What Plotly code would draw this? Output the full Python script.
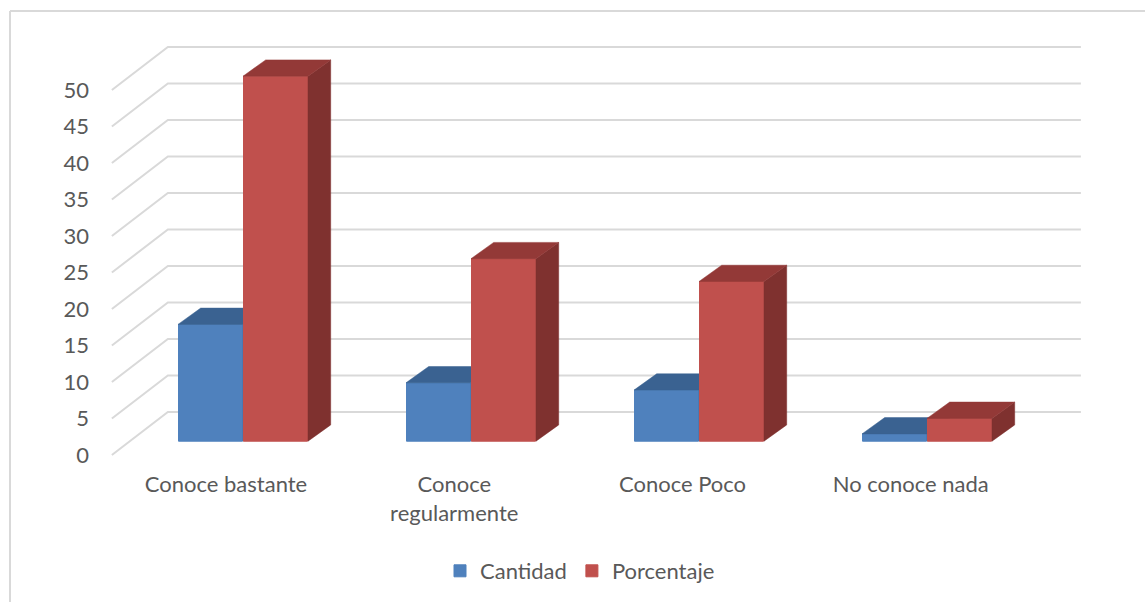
import plotly.graph_objects as go

categories = ["Conoce bastante", "Conoce<br>regularmente", "Conoce Poco", "No conoce nada"]
cantidad = [16, 8, 7, 1]
porcentaje = [50, 25, 21.875, 3.125]
value_ticks = [0, 5, 10, 15, 20, 25, 30, 35, 40, 45, 50]

W, H = 1145, 602
FONT = "Lato"
FONT_SIZE = 22
TEXT = "#595959"
GRID = "#d9d9d9"

# Bar plane mapping (front faces of the bars)
STEP = 228.0
BAR_X0 = 243.0
PX_PER_UNIT = 7.3
BAR_Y0 = 441.2
BAR_W = 65.0 / STEP
LINE_PAD = 0.5 / STEP
DEPTH_X = 22.7 / STEP
DEPTH_Y = 16.3 / PX_PER_UNIT

# Wall / floor plane mapping (tick labels, gridlines)
FLOOR_STEP = 228.25
FLOOR_X0 = 226.0
WALL_Y0 = 455.0
WALL_DX = 56.0 / FLOOR_STEP
WALL_DY = 43.0 / PX_PER_UNIT

fig = go.Figure()

# gridlines: left wall diagonal + back wall line, one per tick
n = len(categories)
gx, gy = [], []
for v in value_ticks:
    gx += [-0.5, -0.5 + WALL_DX, n - 0.5 + WALL_DX, None]
    gy += [v, v + WALL_DY, v + WALL_DY, None]
fig.add_trace(go.Scatter(x=gx, y=gy, xaxis="x2", yaxis="y2", mode="lines",
                         line=dict(color=GRID, width=2), showlegend=False,
                         hoverinfo="skip", zorder=0))


def faces(values, xl, xr):
    sx, sy, tx, ty = [], [], [], []
    for i, v in enumerate(values):
        sx += [i + xr, i + xr + DEPTH_X, i + xr + DEPTH_X, i + xr, i + xr, None]
        sy += [0, DEPTH_Y, v + DEPTH_Y, v, 0, None]
        tx += [i + xl, i + xl + DEPTH_X, i + xr + DEPTH_X, i + xr, i + xl, None]
        ty += [v, v + DEPTH_Y, v + DEPTH_Y, v, v, None]
    return sx, sy, tx, ty


series = [
    ("Cantidad", cantidad, "#4f81bd", "#3a6291", "#3a6291", -BAR_W, 0.0, 1),
    ("Porcentaje", porcentaje, "#c0504d", "#7f312f", "#933937", 0.0, BAR_W, 3),
]
for name, vals, front, side, top, xl, xr, z in series:
    fig.add_trace(go.Bar(x=list(range(n)), y=vals, name=name, width=BAR_W - 2 * LINE_PAD,
                         offset=xl + LINE_PAD, marker=dict(color=front, line=dict(color=front, width=1)),
                         zorder=z))
    sx, sy, tx, ty = faces(vals, xl, xr)
    for fx, fy, col in ((sx, sy, side), (tx, ty, top)):
        fig.add_trace(go.Scatter(x=fx, y=fy, mode="lines", fill="toself", fillcolor=col,
                                 line=dict(color=col, width=0.5), showlegend=False,
                                 hoverinfo="skip", zorder=z + 1))

fig.update_layout(
    width=W, height=H,
    margin=dict(l=0, r=0, t=0, b=0),
    paper_bgcolor="white", plot_bgcolor="white",
    barmode="overlay",
    font=dict(family=FONT, size=FONT_SIZE, color=TEXT),
    xaxis=dict(visible=False, range=[-BAR_X0 / STEP, (W - BAR_X0) / STEP], domain=[0, 1]),
    yaxis=dict(visible=False, range=[(BAR_Y0 - H) / PX_PER_UNIT, BAR_Y0 / PX_PER_UNIT], domain=[0, 1]),
    xaxis2=dict(overlaying="x", anchor="free", position=1 - 469 / H,
                range=[-FLOOR_X0 / FLOOR_STEP, (W - FLOOR_X0) / FLOOR_STEP],
                tickmode="array", tickvals=list(range(n)), ticktext=categories,
                showgrid=False, zeroline=False, showline=False, ticks="",
                tickangle=0, tickfont=dict(family=FONT, size=FONT_SIZE, color=TEXT)),
    yaxis2=dict(overlaying="y", anchor="free", position=89 / W,
                range=[(WALL_Y0 - H) / PX_PER_UNIT, WALL_Y0 / PX_PER_UNIT],
                tickmode="array", tickvals=value_ticks, ticktext=[str(v) for v in value_ticks],
                showgrid=False, zeroline=False, showline=False, ticks="",
                tickfont=dict(family=FONT, size=FONT_SIZE, color=TEXT)),
    legend=dict(orientation="h", x=580 / W, xanchor="center", y=1 - 571 / H, yanchor="middle",
                font=dict(family=FONT, size=FONT_SIZE, color=TEXT), bgcolor="rgba(0,0,0,0)"),
    shapes=[
        dict(type="line", xref="paper", yref="paper", x0=10 / W, x1=10 / W, y0=0, y1=1 - 11 / H,
             line=dict(color=GRID, width=2), layer="below"),
        dict(type="line", xref="paper", yref="paper", x0=10 / W, x1=1, y0=1 - 11 / H, y1=1 - 11 / H,
             line=dict(color=GRID, width=2), layer="below"),
    ],
)

fig.write_html("out.html", config={"displayModeBar": False},
               post_script="document.body.style.margin='0';document.body.style.overflow='hidden';")
